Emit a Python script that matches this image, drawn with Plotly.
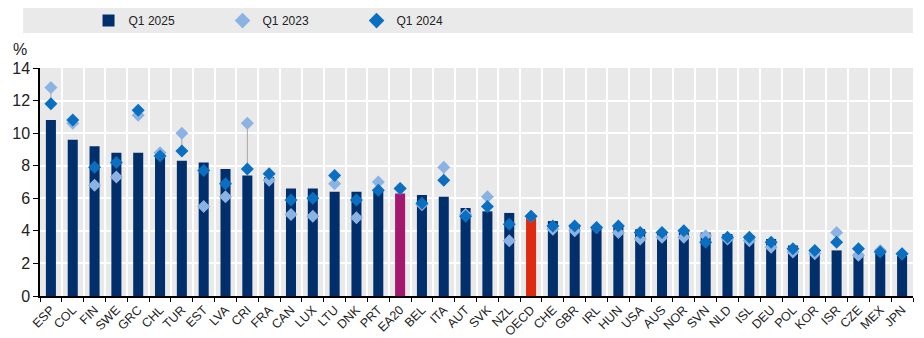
import plotly.graph_objects as go

countries = ["ESP", "COL", "FIN", "SWE", "GRC", "CHL", "TUR", "EST", "LVA", "CRI",
             "FRA", "CAN", "LUX", "LTU", "DNK", "PRT", "EA20", "BEL", "ITA", "AUT",
             "SVK", "NZL", "OECD", "CHE", "GBR", "IRL", "HUN", "USA", "AUS", "NOR",
             "SVN", "NLD", "ISL", "DEU", "POL", "KOR", "ISR", "CZE", "MEX", "JPN"]

q1_2025 = [10.8, 9.6, 9.2, 8.8, 8.8, 8.7, 8.3, 8.2, 7.8, 7.4,
           7.3, 6.6, 6.6, 6.4, 6.4, 6.5, 6.3, 6.2, 6.1, 5.4,
           5.2, 5.1, 4.8, 4.6, 4.4, 4.3, 4.3, 4.1, 4.0, 3.9,
           3.9, 3.8, 3.7, 3.5, 3.1, 2.8, 2.8, 2.6, 2.6, 2.5]

q1_2023 = [12.8, 10.6, 6.8, 7.3, 11.1, 8.8, 10.0, 5.5, 6.1, 10.6,
           7.1, 5.0, 4.9, 6.9, 4.8, 7.0, 6.6, 5.6, 7.9, 5.0,
           6.1, 3.4, 4.9, 4.1, 4.0, 4.2, 3.9, 3.5, 3.6, 3.6,
           3.7, 3.5, 3.4, 3.0, 2.7, 2.6, 3.9, 2.5, 2.8, 2.6]

q1_2024 = [11.8, 10.8, 7.9, 8.2, 11.4, 8.6, 8.9, 7.7, 6.9, 7.8,
           7.5, 5.9, 6.0, 7.4, 5.9, 6.5, 6.6, 5.7, 7.1, 4.9,
           5.5, 4.4, 4.9, 4.3, 4.3, 4.2, 4.3, 3.9, 3.9, 4.0,
           3.3, 3.6, 3.6, 3.3, 2.9, 2.8, 3.3, 2.9, 2.7, 2.6]

NAVY = "#002F6C"
HIGHLIGHT = {"EA20": "#A3176F", "OECD": "#DE2A10"}
LIGHT = "#8AB3E3"
MID = "#0A6FC0"

bar_colors = [HIGHLIGHT.get(c, NAVY) for c in countries]

# thin grey range line linking the markers to the top of each bar
rx, ry = [], []
for c, b, a, d in zip(countries, q1_2025, q1_2023, q1_2024):
    hi = max(a, d)
    lo = max(b, min(a, d))
    if hi > lo:
        rx += [c, c, None]
        ry += [lo, hi, None]

fig = go.Figure()

fig.add_trace(go.Bar(
    x=countries, y=q1_2025, name="Q1 2025",
    marker=dict(color=bar_colors, line=dict(width=0)),
    width=0.46,
))

fig.add_trace(go.Scatter(
    x=rx, y=ry, mode="lines", showlegend=False, hoverinfo="skip",
    line=dict(color="#A6A6A6", width=1),
))

fig.add_trace(go.Scatter(
    x=countries, y=q1_2023, name="Q1 2023", mode="markers",
    marker=dict(symbol="diamond", size=10, color=LIGHT),
))

fig.add_trace(go.Scatter(
    x=countries, y=q1_2024, name="Q1 2024", mode="markers",
    marker=dict(symbol="diamond", size=10, color=MID),
))

FONT = "Liberation Sans Narrow, Arial Narrow, Liberation Sans, Arial, sans-serif"

fig.update_layout(
    width=924, height=338,
    margin=dict(l=40, r=11, t=68, b=42),
    paper_bgcolor="white",
    plot_bgcolor="#E9E9E9",
    font=dict(family=FONT, size=14, color="#222222"),
    showlegend=True,
    legend=dict(
        orientation="h", x=0.0556, xanchor="left", y=0.939, yanchor="middle",
        yref="container", bgcolor="rgba(0,0,0,0)",
        entrywidth=89, entrywidthmode="pixels",
        font=dict(family=FONT, size=12, color="#222222"),
        itemsizing="constant", traceorder="normal",
    ),
    bargap=0.5,
    shapes=[dict(
        type="rect", xref="paper", yref="paper",
        x0=-0.0195, x1=1.0, y0=1.1535, y1=1.263,
        fillcolor="#EAEAEA", line=dict(width=0), layer="below",
    )],
    annotations=[dict(
        text="%", xref="paper", yref="paper", x=-0.013, y=1.035,
        xanchor="right", yanchor="bottom", showarrow=False,
        font=dict(family=FONT, size=16, color="#222222"),
    )],
)

fig.update_xaxes(
    type="category", range=[-0.5, len(countries) - 0.5],
    tickangle=-45, tickson="boundaries", automargin=False,
    ticks="outside", ticklen=4, tickcolor="black", tickwidth=1,
    showgrid=True, gridcolor="white", gridwidth=1.5,
    showline=True, linecolor="black", linewidth=1.5,
    tickfont=dict(family=FONT, size=12.5, color="#222222"),
)

fig.update_yaxes(
    range=[0, 14], dtick=2, automargin=False,
    ticks="outside", ticklen=5, tickcolor="black", tickwidth=1,
    showgrid=True, gridcolor="white", gridwidth=1.5,
    showline=True, linecolor="black", linewidth=1.5,
    zeroline=False,
    tickfont=dict(family=FONT, size=16, color="#222222"),
)

fig.write_html("out.html")
